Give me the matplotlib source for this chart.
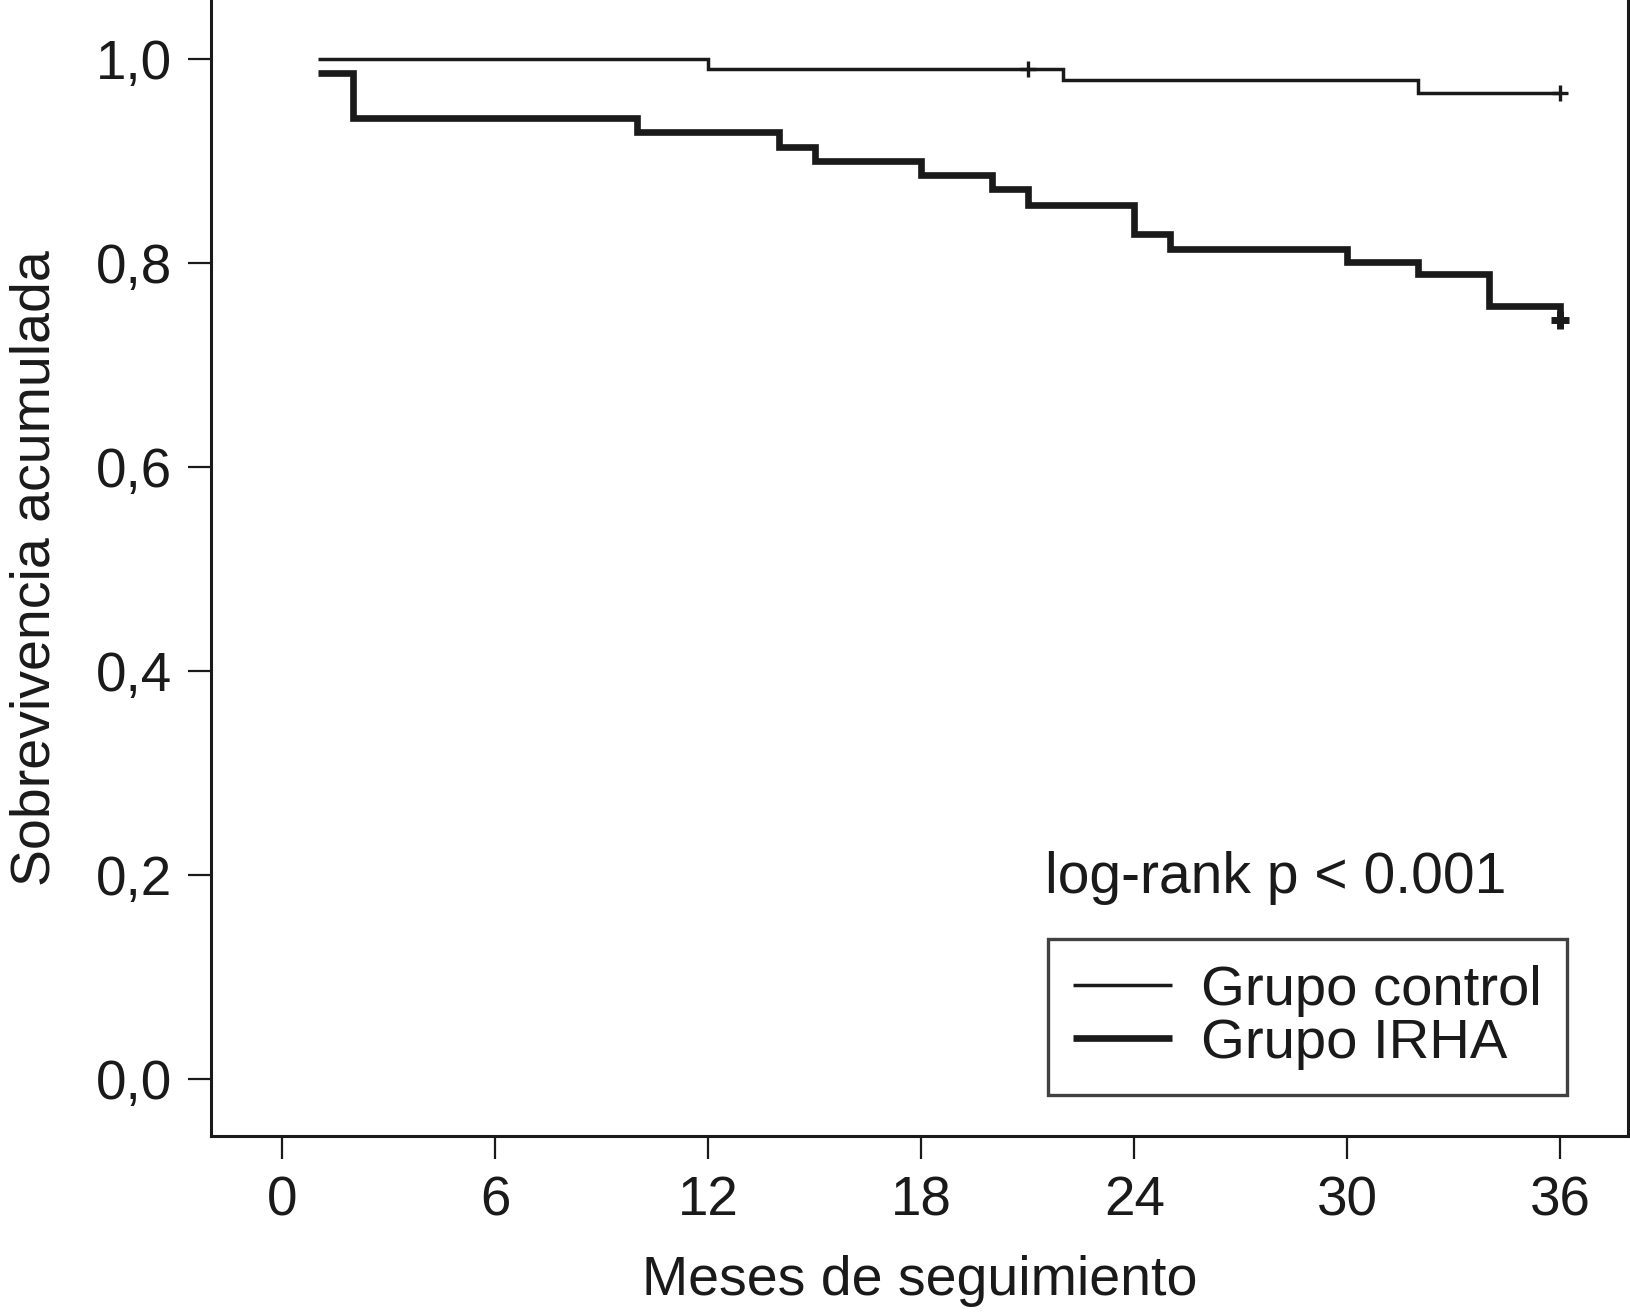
import matplotlib
matplotlib.use('Agg')
import matplotlib.pyplot as plt

plt.rcParams['font.family'] = ['Liberation Sans', 'DejaVu Sans']

# datos (Kaplan-Meier)
control_t = [1, 12, 22, 32, 36]
control_s = [1.000, 0.990, 0.980, 0.967, 0.967]
control_cens_t = [21, 36]
control_cens_s = [0.990, 0.967]

irha_t = [1, 2, 10, 14, 15, 18, 20, 21, 24, 25, 30, 32, 34, 36]
irha_s = [0.986, 0.942, 0.929, 0.914, 0.900, 0.886, 0.873, 0.857,
          0.829, 0.814, 0.801, 0.789, 0.758, 0.744]
irha_cens_t = [36]
irha_cens_s = [0.744]

xticks = [0, 6, 12, 18, 24, 30, 36]
yticks = [0.0, 0.2, 0.4, 0.6, 0.8, 1.0]
ytick_labels = ['0,0', '0,2', '0,4', '0,6', '0,8', '1,0']

fig = plt.figure(figsize=(16.31, 13.15), dpi=100)
ax = fig.add_axes([0.1295, 0.1362, 0.8685, 0.8638])

ax.step(control_t, control_s, where='post', color='#1a1a1a', lw=2.5,
        solid_joinstyle='miter', solid_capstyle='butt', label='Grupo control')
ax.step(irha_t, irha_s, where='post', color='#1a1a1a', lw=4.8,
        solid_joinstyle='miter', solid_capstyle='butt', label='Grupo IRHA')
ax.plot(control_cens_t, control_cens_s, ls='none', marker='+', ms=11.5,
        mew=2.4, color='#1a1a1a')
ax.plot(irha_cens_t, irha_cens_s, ls='none', marker='+', ms=13,
        mew=5, color='#1a1a1a')

ax.set_xlim(-2.0, 37.9)
ax.set_ylim(-0.056, 1.058)
ax.set_xticks(xticks)
ax.set_xticklabels([str(v) for v in xticks])
ax.set_yticks(yticks)
ax.set_yticklabels(ytick_labels)
ax.tick_params(direction='out', length=16.5, width=1.6, pad=12,
               labelsize=39.5, color='#1a1a1a', labelcolor='#1a1a1a')

for side in ['left', 'right', 'bottom']:
    ax.spines[side].set_linewidth(2.2)
    ax.spines[side].set_color('#1a1a1a')
ax.spines['top'].set_visible(False)

ax.set_xlabel('Meses de seguimiento', fontsize=40, color='#1a1a1a')
ax.xaxis.set_label_coords(0.5, -0.105)
ax.set_ylabel('Sobrevivencia acumulada', fontsize=40, color='#1a1a1a')
ax.yaxis.set_label_coords(-0.106, 0.5)

ax.text(0.5886, 0.2135, 'log-rank p < 0.001', transform=ax.transAxes,
        fontsize=41, va='baseline', ha='left', color='#1a1a1a')

leg = ax.legend(loc='lower right', bbox_to_anchor=(0.957, 0.036),
                borderaxespad=0, fontsize=40.5, frameon=True, fancybox=False,
                handlelength=1.75, handletextpad=0.52, borderpad=0.45,
                labelspacing=0.02)
leg.get_frame().set_edgecolor('#111111')
leg.get_frame().set_linewidth(2.4)
for t in leg.get_texts():
    t.set_color('#1a1a1a')

fig.savefig('out.png', dpi=100)
